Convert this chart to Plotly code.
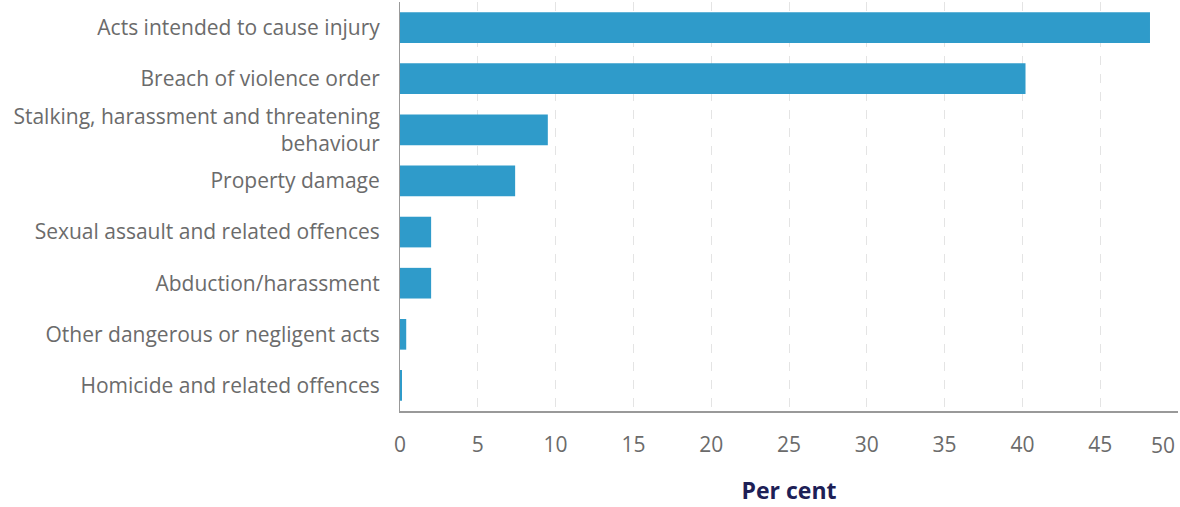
import plotly.graph_objects as go

categories = [
    "Acts intended to cause injury",
    "Breach of violence order",
    "Stalking, harassment and threatening<br>behaviour",
    "Property damage",
    "Sexual assault and related offences",
    "Abduction/harassment",
    "Other dangerous or negligent acts",
    "Homicide and related offences",
]
per_cent = [48.2, 40.2, 9.5, 7.4, 2.0, 2.0, 0.4, 0.1]
x_ticks = list(range(0, 55, 5))
# last label is drawn as an annotation so it is not clipped at the right edge
x_ticktext = [str(v) if v < 50 else "" for v in x_ticks]

fig = go.Figure(go.Bar(
    x=per_cent,
    y=categories,
    orientation="h",
    marker=dict(color="#2f9bca", line=dict(width=0)),
    width=0.6,
))

fig.add_annotation(
    x=50, y=0, xref="x", yref="paper",
    text="50", showarrow=False,
    xanchor="right", yanchor="top", xshift=-1, yshift=-18,
    font=dict(size=21, color="#6b6b6b"),
)

fig.update_layout(
    width=1180,
    height=507,
    margin=dict(l=400, r=2, t=2, b=96),
    plot_bgcolor="white",
    paper_bgcolor="white",
    font=dict(family="Open Sans, sans-serif", size=21, color="#6b6b6b"),
    showlegend=False,
    xaxis=dict(
        range=[0, 50],
        tickvals=x_ticks,
        ticktext=x_ticktext,
        showgrid=True,
        gridcolor="#e4e4e4",
        griddash="dash",
        gridwidth=1,
        showline=True,
        linecolor="#999",
        linewidth=2,
        zeroline=False,
        ticks="",
        automargin=False,
        ticklabelstandoff=14,
        tickfont=dict(size=21, color="#6b6b6b"),
        title=dict(text="<b>Per cent</b>", font=dict(size=23, color="#1d2056"), standoff=26),
    ),
    yaxis=dict(
        autorange="reversed",
        showline=True,
        linecolor="#999",
        linewidth=1,
        showgrid=False,
        ticks="",
        automargin=False,
        ticklabelstandoff=15,
        tickfont=dict(size=21, color="#6b6b6b"),
    ),
)

# drop the default page margin so the figure fills the window exactly
fig.write_html(
    "out.html",
    config={"displayModeBar": False},
    post_script="document.body.style.margin='0';",
)
